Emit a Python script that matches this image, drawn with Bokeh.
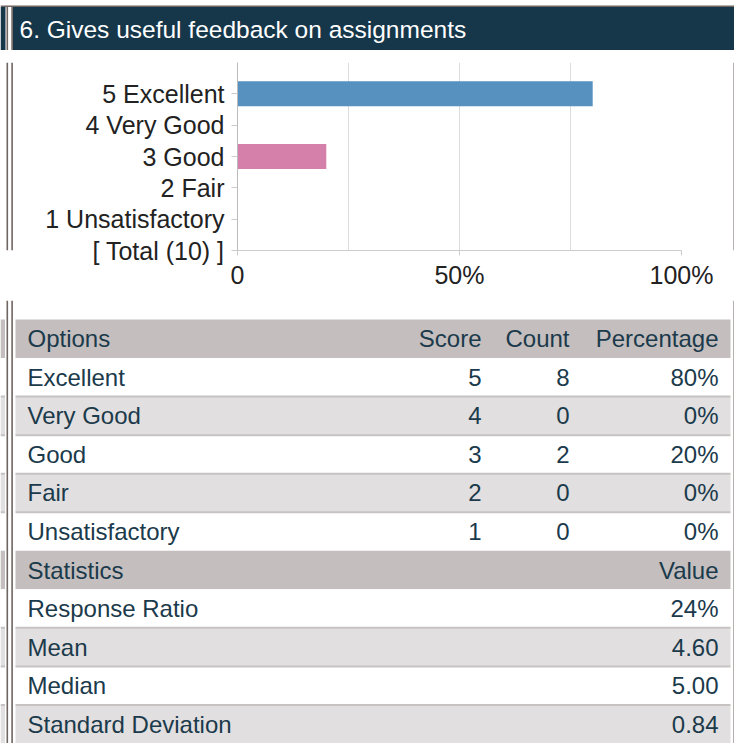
from bokeh.plotting import figure
from bokeh.layouts import column, row
from bokeh.models import Range1d, FixedTicker, ColumnDataSource
from bokeh.embed import file_html
from bokeh.resources import INLINE
from bokeh.core.properties import value

# ---------------- data ----------------
question = "6. Gives useful feedback on assignments"
options = ["Excellent", "Very Good", "Good", "Fair", "Unsatisfactory"]
scores = [5, 4, 3, 2, 1]
counts = [8, 0, 2, 0, 0]
percentages = [80, 0, 20, 0, 0]
total = 10
bar_colors = ["#5691c0", "#5691c0", "#d580ab", "#d580ab", "#d580ab"]
x_ticks = [0, 50, 100]
x_tick_labels = ["0", "50%", "100%"]
grid_ticks = [25, 50, 75, 100]
table_headers = ["Options", "Score", "Count", "Percentage"]
stats_header = ["Statistics", "Value"]
stats_labels = ["Response Ratio", "Mean", "Median", "Standard Deviation"]
stats_values = ["24%", "4.60", "5.00", "0.84"]

# ---------------- style ----------------
FONT = "Liberation Sans"
HEAD_BG = "#16364a"
BORDER = "#6f6561"
TH_BG = "#c4bebe"
ALT_BG = "#e1dfdf"
SEP = "#c8c3c3"
TXT = "#1b3a4b"
W = 734
H_HEAD, H_CHART, H_TAB = 50, 250, 443


def canvas(x0, x1, y0, y1):
    p = figure(width=int(x1 - x0), height=int(y1 - y0),
               x_range=Range1d(x0, x1), y_range=Range1d(y1, y0),
               output_backend="svg", toolbar_location=None,
               x_axis_location=None, y_axis_location=None,
               min_border=0, title=None)
    p.grid.visible = False
    p.outline_line_color = None
    p.background_fill_color = "white"
    p.border_fill_color = "white"
    return p


def borders(p, y0, y1, left=True, right=True):
    if left:
        p.quad(left=[6, 10.8], right=[7.6, 12.4], top=y0, bottom=y1,
               fill_color=BORDER, line_color=None)
    if right:
        p.quad(left=733, right=735, top=y0, bottom=y1, fill_color=BORDER, line_color=None)


# ---------------- header ----------------
head = canvas(0, W, 0, H_HEAD)
head.quad(left=0, right=735, top=5, bottom=6.6, fill_color=BORDER, line_color=None)
head.quad(left=[0, 12.4], right=[5, 735], top=6.6, bottom=50, fill_color=HEAD_BG, line_color=None)
borders(head, 6.6, 50, left=True, right=False)
head.text(x=[19], y=[28.5], text=[question], text_font=value(FONT),
          text_font_size="24.5px", text_color="white", text_baseline="middle",
          text_align="left")

# ---------------- chart ----------------
CH0, CH1 = 50, 300
lstrip = canvas(0, 13, CH0, CH1)
borders(lstrip, CH0, CH1, left=True, right=False)
rstrip = canvas(731, W, CH0, CH1)
borders(rstrip, CH0, CH1, left=False, right=True)

chart = figure(width=731 - 13, height=H_CHART, x_range=Range1d(0, 100), y_range=Range1d(0, 6),
               output_backend="svg", toolbar_location=None, title=None,
               min_border_left=224, min_border_right=50,
               min_border_top=12, min_border_bottom=50)
chart.outline_line_color = None
chart.background_fill_color = "white"
chart.border_fill_color = "white"

src = ColumnDataSource(dict(y=scores, right=percentages, color=bar_colors))
chart.hbar(y="y", left=0, right="right", height=0.8, fill_color="color",
           line_color=None, source=src)

chart.xaxis.ticker = FixedTicker(ticks=x_ticks)
chart.xaxis.major_label_overrides = {t: l for t, l in zip(x_ticks, x_tick_labels)}
chart.xaxis.minor_tick_line_color = None
chart.xaxis.axis_line_color = "#cccccc"
chart.xaxis.major_tick_line_color = "#cccccc"
chart.xaxis.major_tick_out = 5
chart.xaxis.major_tick_in = 0
chart.xaxis.major_label_standoff = 5
chart.xaxis.major_label_text_font = FONT
chart.xaxis.major_label_text_font_size = "25px"
chart.xaxis.major_label_text_color = "#222222"

chart.xgrid.ticker = FixedTicker(ticks=grid_ticks)
chart.xgrid.grid_line_color = "#dddddd"
chart.ygrid.visible = False

y_labels = {s: f"{s} {o}" for s, o in zip(scores, options)}
y_labels[0] = f"[ Total ({total}) ]"
chart.yaxis.ticker = FixedTicker(ticks=[0] + scores)
chart.yaxis.major_label_overrides = y_labels
chart.yaxis.minor_tick_line_color = None
chart.yaxis.axis_line_color = "#bbbbbb"
chart.yaxis.major_tick_line_color = "#cccccc"
chart.yaxis.major_tick_out = 6
chart.yaxis.major_tick_in = 0
chart.yaxis.major_label_standoff = 7
chart.yaxis.major_label_text_font = FONT
chart.yaxis.major_label_text_font_size = "25px"
chart.yaxis.major_label_text_color = "#222222"

# ---------------- table ----------------
T0, T1 = 300, 300 + H_TAB
tab = canvas(0, W, T0, T1)
borders(tab, T0, T1)

ROW0 = 319.0
RH = (T1 - ROW0) / 11
TX0, TX1 = 15, 730
rows = []
rows.append(("head", [table_headers[0], "", table_headers[1], table_headers[2], table_headers[3]]))
for o, s, c, pc in zip(options, scores, counts, percentages):
    rows.append(("data", [o, "", str(s), str(c), f"{pc}%"]))
rows.append(("head", [stats_header[0], "", "", "", stats_header[1]]))
for l, v in zip(stats_labels, stats_values):
    rows.append(("data", [l, "", "", "", v]))

col_right = [None, None, 481, 569, 718]
tops, bots, fills = [], [], []
stripe = 0
seps = []
left_txt = dict(x=[], y=[], text=[])
right_txt = dict(x=[], y=[], text=[])
for i, (kind, cells) in enumerate(rows):
    top = ROW0 + i * RH
    bot = top + RH
    if kind == "head":
        fill = TH_BG
        stripe = 0
    else:
        fill = "white" if stripe % 2 == 0 else ALT_BG
        if stripe > 0:
            seps.append(top)
        stripe += 1
    tops.append(top)
    bots.append(bot)
    fills.append(fill)
    yc = top + RH / 2
    left_txt["x"].append(27)
    left_txt["y"].append(yc)
    left_txt["text"].append(cells[0])
    for j in (2, 3, 4):
        if cells[j]:
            right_txt["x"].append(col_right[j])
            right_txt["y"].append(yc)
            right_txt["text"].append(cells[j])

# neighbouring table fragment at far left
tab.quad(left=0, right=4.5, top=tops, bottom=bots, fill_color=fills, line_color=None)
tab.quad(left=0, right=4.5, top=[s - 1 for s in seps], bottom=[s + 1 for s in seps],
         fill_color=SEP, line_color=None)

tab.quad(left=TX0, right=TX1, top=tops, bottom=bots, fill_color=fills, line_color=None)
tab.quad(left=TX0, right=TX1, top=[s - 1 for s in seps], bottom=[s + 1 for s in seps],
         fill_color=SEP, line_color=None)
tab.text(x="x", y="y", text="text", source=ColumnDataSource(left_txt),
         text_font=value(FONT), text_font_size="24px", text_color=TXT,
         text_baseline="middle", text_align="left")
tab.text(x="x", y="y", text="text", source=ColumnDataSource(right_txt),
         text_font=value(FONT), text_font_size="24px", text_color=TXT,
         text_baseline="middle", text_align="right")

layout = column(head, row(lstrip, chart, rstrip, spacing=0), tab, spacing=0)

open("out.html", "w").write(file_html(layout, INLINE))
